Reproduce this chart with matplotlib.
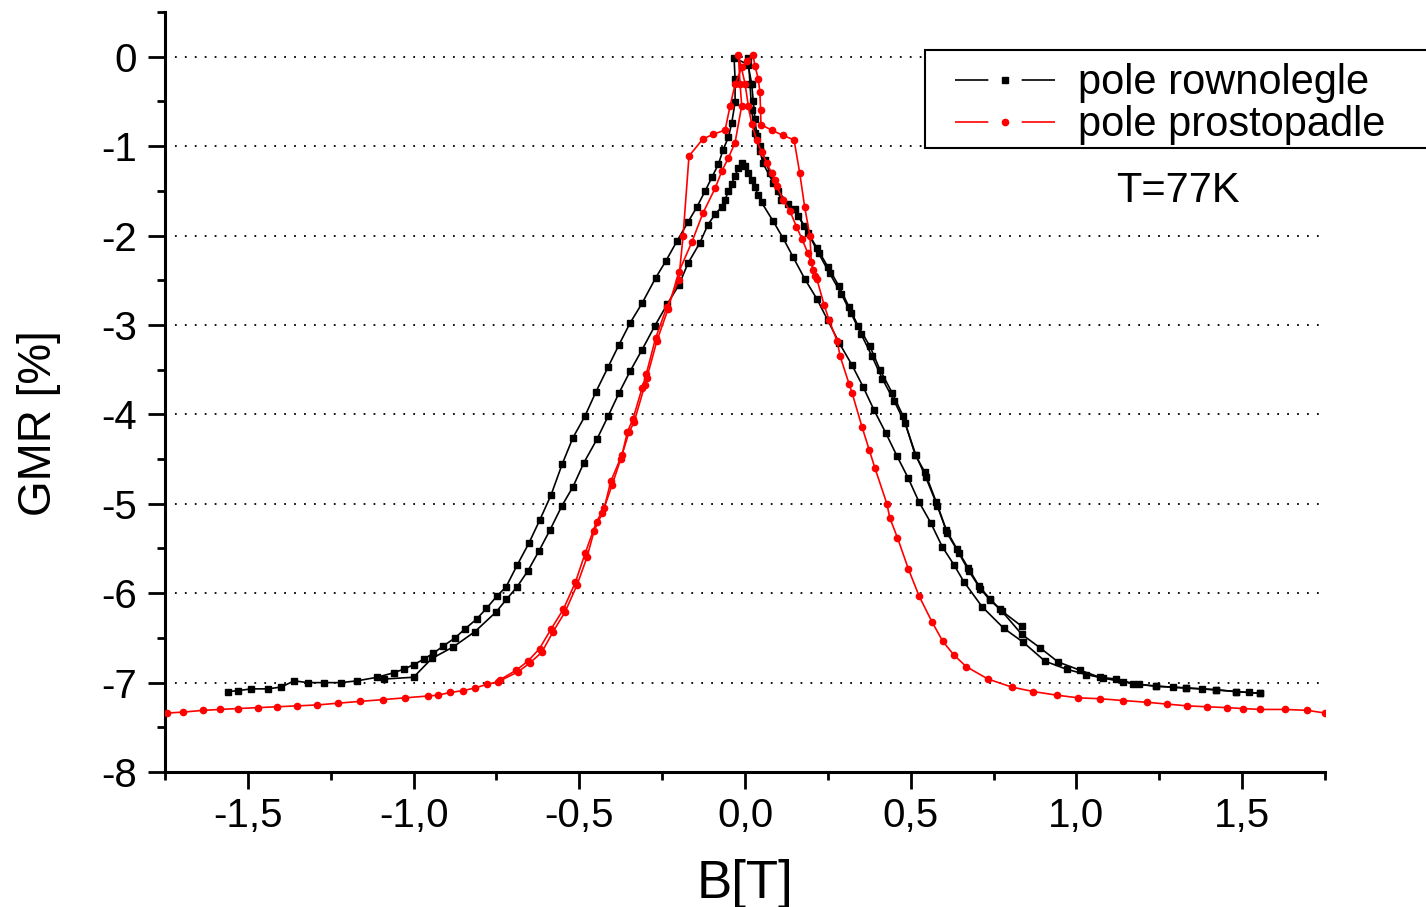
import matplotlib
matplotlib.use("Agg")
import matplotlib.pyplot as plt
from matplotlib.lines import Line2D
from matplotlib.patches import Rectangle
import numpy as np

plt.rcParams["font.family"] = ["Liberation Sans", "DejaVu Sans"]

# pole rownolegle: sweep from +B to -B
rown_down_b = [1.555, 1.48, 1.42, 1.33, 1.24, 1.17, 1.12, 1.07, 1.01, 0.945, 0.89, 0.835,
               0.77, 0.738, 0.706, 0.674, 0.64, 0.607, 0.577, 0.543, 0.513, 0.477, 0.444,
               0.407, 0.377, 0.341, 0.314, 0.284, 0.25, 0.217, 0.178, 0.151, 0.11, 0.085,
               0.054, 0.045, 0.036, 0.03, 0.025, 0.02, 0.009, -0.033, -0.03, -0.03, -0.04,
               -0.05, -0.066, -0.08, -0.1, -0.12, -0.145, -0.172, -0.205, -0.238, -0.269,
               -0.311, -0.347, -0.38, -0.413, -0.45, -0.483, -0.519, -0.552, -0.585, -0.619,
               -0.652, -0.688, -0.721, -0.748, -0.78, -0.81, -0.845, -0.875, -0.91, -0.94,
               -0.97, -1.0, -1.03, -1.06, -1.11, -1.17, -1.22, -1.27, -1.32, -1.36, -1.40,
               -1.44, -1.49, -1.53, -1.56]
rown_down_gmr = [-7.12, -7.10, -7.08, -7.06, -7.04, -7.01, -6.96, -6.94, -6.86, -6.77, -6.61,
                 -6.46, -6.18, -6.06, -5.92, -5.72, -5.51, -5.29, -4.98, -4.65, -4.45, -4.02,
                 -3.76, -3.50, -3.24, -3.01, -2.80, -2.57, -2.35, -2.14, -1.89, -1.70, -1.60,
                 -1.41, -1.19, -1.05, -0.89, -0.70, -0.50, -0.30, -0.09, -0.01, -0.25, -0.51,
                 -0.74, -0.90, -1.04, -1.20, -1.35, -1.50, -1.68, -1.85, -2.06, -2.28, -2.47,
                 -2.76, -2.98, -3.22, -3.47, -3.75, -4.02, -4.26, -4.56, -4.90, -5.18, -5.44,
                 -5.69, -5.93, -6.03, -6.17, -6.29, -6.40, -6.50, -6.59, -6.67, -6.74, -6.80,
                 -6.85, -6.89, -6.94, -6.98, -7.00, -7.00, -7.00, -6.98, -7.05, -7.07, -7.07,
                 -7.09, -7.10]

# pole rownolegle: sweep from -B to +B
rown_up_b = [-1.09, -1.0, -0.945, -0.88, -0.815, -0.751, -0.72, -0.688, -0.655, -0.622, -0.588,
             -0.552, -0.519, -0.486, -0.447, -0.413, -0.38, -0.347, -0.311, -0.272, -0.235,
             -0.199, -0.172, -0.136, -0.112, -0.09, -0.07, -0.06, -0.05, -0.04, -0.03, -0.02,
             -0.01, 0.0, 0.01, 0.02, 0.03, 0.04, 0.05, 0.085, 0.115, 0.145, 0.181, 0.217,
             0.25, 0.284, 0.323, 0.356, 0.389, 0.425, 0.459, 0.492, 0.525, 0.56, 0.595, 0.63,
             0.66, 0.715, 0.78, 0.84, 0.905, 0.97, 1.03, 1.08, 1.14, 1.19, 1.24, 1.29, 1.33,
             1.38, 1.42, 1.48, 1.52, 1.555]
rown_up_gmr = [-6.96, -6.94, -6.73, -6.60, -6.43, -6.21, -6.07, -5.93, -5.75, -5.53, -5.29,
               -5.02, -4.81, -4.54, -4.28, -4.02, -3.76, -3.52, -3.28, -3.01, -2.77, -2.55,
               -2.31, -2.08, -1.88, -1.76, -1.68, -1.60, -1.50, -1.42, -1.33, -1.25, -1.19,
               -1.22, -1.30, -1.38, -1.46, -1.55, -1.63, -1.84, -2.03, -2.24, -2.49, -2.71,
               -2.95, -3.20, -3.45, -3.69, -3.95, -4.21, -4.47, -4.71, -4.98, -5.21, -5.48,
               -5.68, -5.87, -6.15, -6.39, -6.55, -6.76, -6.85, -6.91, -6.95, -6.99, -7.02,
               -7.04, -7.05, -7.06, -7.07, -7.08, -7.10, -7.11, -7.12]

# pole rownolegle: short branch on the right
rown_part_b = [0.01, 0.015, 0.02, 0.03, 0.045, 0.06, 0.075, 0.1, 0.13, 0.16, 0.19, 0.222,
               0.255, 0.29, 0.32, 0.35, 0.383, 0.414, 0.45, 0.483, 0.515, 0.545, 0.58, 0.61,
               0.645, 0.675, 0.71, 0.74, 0.775, 0.835]
rown_part_gmr = [-0.02, -0.30, -0.60, -0.85, -1.00, -1.15, -1.30, -1.50, -1.65, -1.78, -1.97,
                 -2.20, -2.42, -2.65, -2.87, -3.10, -3.35, -3.60, -3.85, -4.10, -4.45, -4.70,
                 -5.02, -5.33, -5.55, -5.75, -5.95, -6.08, -6.20, -6.37]

# pole prostopadle: main sweep
prost_a_b = [-1.744, -1.696, -1.635, -1.584, -1.53, -1.47, -1.412, -1.352, -1.291, -1.228,
             -1.162, -1.092, -1.026, -0.957, -0.926, -0.89, -0.851, -0.815, -0.779, -0.745,
             -0.685, -0.649, -0.613, -0.579, -0.543, -0.507, -0.477, -0.455, -0.43, -0.401,
             -0.375, -0.35, -0.335, -0.302, -0.296, -0.266, -0.232, -0.2, -0.16, -0.127,
             -0.09, -0.07, -0.05, -0.03, -0.01, -0.015, -0.02, 0.0, 0.01, 0.02, 0.035, 0.05,
             0.066, 0.08, 0.09, 0.096, 0.115, 0.136, 0.155, 0.172, 0.19, 0.206, 0.217, 0.239,
             0.254, 0.278, 0.287, 0.314, 0.323, 0.353, 0.375, 0.392, 0.428, 0.437, 0.46,
             0.493, 0.525, 0.564, 0.597, 0.63, 0.667, 0.733, 0.805, 0.87, 0.94, 1.005, 1.07,
             1.14, 1.213, 1.273, 1.334, 1.394, 1.455, 1.503, 1.554, 1.63, 1.696, 1.75]
prost_a_gmr = [-7.34, -7.33, -7.31, -7.30, -7.29, -7.28, -7.27, -7.26, -7.25, -7.23, -7.21,
               -7.19, -7.17, -7.15, -7.14, -7.11, -7.09, -7.06, -7.02, -6.99, -6.88, -6.78,
               -6.66, -6.43, -6.21, -5.91, -5.60, -5.30, -5.10, -4.79, -4.50, -4.20, -4.09,
               -3.67, -3.59, -3.18, -2.82, -2.41, -2.07, -1.75, -1.47, -1.28, -1.13, -0.96,
               -0.55, -0.30, 0.02, -0.30, -0.55, -0.75, -0.93, -1.07, -1.19, -1.30, -1.38,
               -1.45, -1.60, -1.73, -1.90, -2.04, -2.20, -2.38, -2.49, -2.78, -2.95, -3.18,
               -3.35, -3.66, -3.76, -4.14, -4.40, -4.60, -5.00, -5.16, -5.38, -5.73, -6.03,
               -6.32, -6.54, -6.69, -6.82, -6.96, -7.05, -7.10, -7.14, -7.17, -7.18, -7.20,
               -7.22, -7.24, -7.26, -7.27, -7.28, -7.29, -7.30, -7.30, -7.31, -7.34]

# pole prostopadle: second sweep near the peak
prost_b_b = [-0.74, -0.69, -0.655, -0.62, -0.585, -0.548, -0.512, -0.482, -0.448, -0.425,
             -0.405, -0.371, -0.355, -0.338, -0.31, -0.298, -0.27, -0.236, -0.2, -0.187,
             -0.169, -0.127, -0.097, -0.06, -0.045, -0.03, -0.01, 0.005, 0.024, 0.03, 0.04,
             0.045, 0.047, 0.048, 0.08, 0.114, 0.148, 0.165, 0.18, 0.196, 0.2, 0.21]
prost_b_gmr = [-6.97, -6.86, -6.76, -6.62, -6.40, -6.18, -5.88, -5.55, -5.20, -5.05, -4.75,
               -4.45, -4.20, -4.05, -3.70, -3.55, -3.15, -2.80, -2.50, -2.01, -1.11, -0.92,
               -0.87, -0.82, -0.55, -0.31, -0.12, -0.05, 0.02, -0.10, -0.25, -0.40, -0.60,
               -0.76, -0.82, -0.88, -0.93, -1.30, -1.68, -2.01, -2.30, -2.45]

x_ticks = [-1.5, -1.0, -0.5, 0.0, 0.5, 1.0, 1.5]
x_tick_labels = ["-1,5", "-1,0", "-0,5", "0,0", "0,5", "1,0", "1,5"]
y_ticks = [0, -1, -2, -3, -4, -5, -6, -7, -8]
y_tick_labels = ["0", "-1", "-2", "-3", "-4", "-5", "-6", "-7", "-8"]
legend_labels = ["pole rownolegle", "pole prostopadle"]

fig = plt.figure(figsize=(14.26, 9.07), dpi=100)
ax = fig.add_axes([0.1157, 0.1488, 0.8135, 0.838])

for y in y_ticks[:-1]:
    ax.axhline(y, color="black", linestyle=(0, (1, 4.5)), linewidth=1.3, zorder=1)

black = dict(color="black", marker="s", markersize=5, linewidth=1.2, zorder=2)
red = dict(color="red", marker="o", markersize=4.5, linewidth=1.2, zorder=3)

ax.plot(rown_down_b, rown_down_gmr, **black)
ax.plot(rown_up_b, rown_up_gmr, **black)
ax.plot(rown_part_b, rown_part_gmr, **black)
ax.plot(prost_a_b, prost_a_gmr, **red)
ax.plot(prost_b_b, prost_b_gmr, **red)

ax.set_xlim(-1.75, 1.75)
ax.set_ylim(-8, 0.5)
ax.set_xticks(x_ticks)
ax.set_xticklabels(x_tick_labels)
ax.set_yticks(y_ticks)
ax.set_yticklabels(y_tick_labels)
ax.set_xticks(np.arange(-1.75, 1.76, 0.5), minor=True)
ax.set_yticks(np.arange(-7.5, 0.6, 1.0), minor=True)

for side in ["top", "right"]:
    ax.spines[side].set_visible(False)
for side in ["left", "bottom"]:
    ax.spines[side].set_linewidth(2.2)

ax.tick_params(which="major", direction="out", length=12, width=2, labelsize=29)
ax.tick_params(which="minor", direction="out", length=6, width=2)
ax.tick_params(axis="x", pad=6)
ax.tick_params(axis="y", pad=8)

ax.set_xlabel("B[T]", fontsize=38)
ax.xaxis.set_label_coords(0.5, -0.115)
ax.set_ylabel("GMR [%]", fontsize=33)
ax.yaxis.set_label_coords(-0.09, 0.459)

ax.text(1.12, -1.5, "T=77K", fontsize=30, va="center", ha="left")

handles = [
    Line2D([0], [0], color="black", marker="s", markersize=5, linewidth=1.2,
           linestyle=(0, (20, 20))),
    Line2D([0], [0], color="red", marker="o", markersize=4.5, linewidth=1.2,
           linestyle=(0, (20, 20))),
]
fig.legend(handles, legend_labels, loc="upper left",
           bbox_to_anchor=(928 / 1426, 1 - 36 / 907),
           frameon=False, fontsize=30, handlelength=2.4, handletextpad=0.55,
           labelspacing=0.05, borderpad=0.15)
fig.patches.append(Rectangle((925 / 1426, 1 - 148 / 907), 0.4, 98 / 907,
                             transform=fig.transFigure, facecolor="white",
                             edgecolor="black", linewidth=1.5, zorder=1))

fig.savefig("out.png", dpi=100)
